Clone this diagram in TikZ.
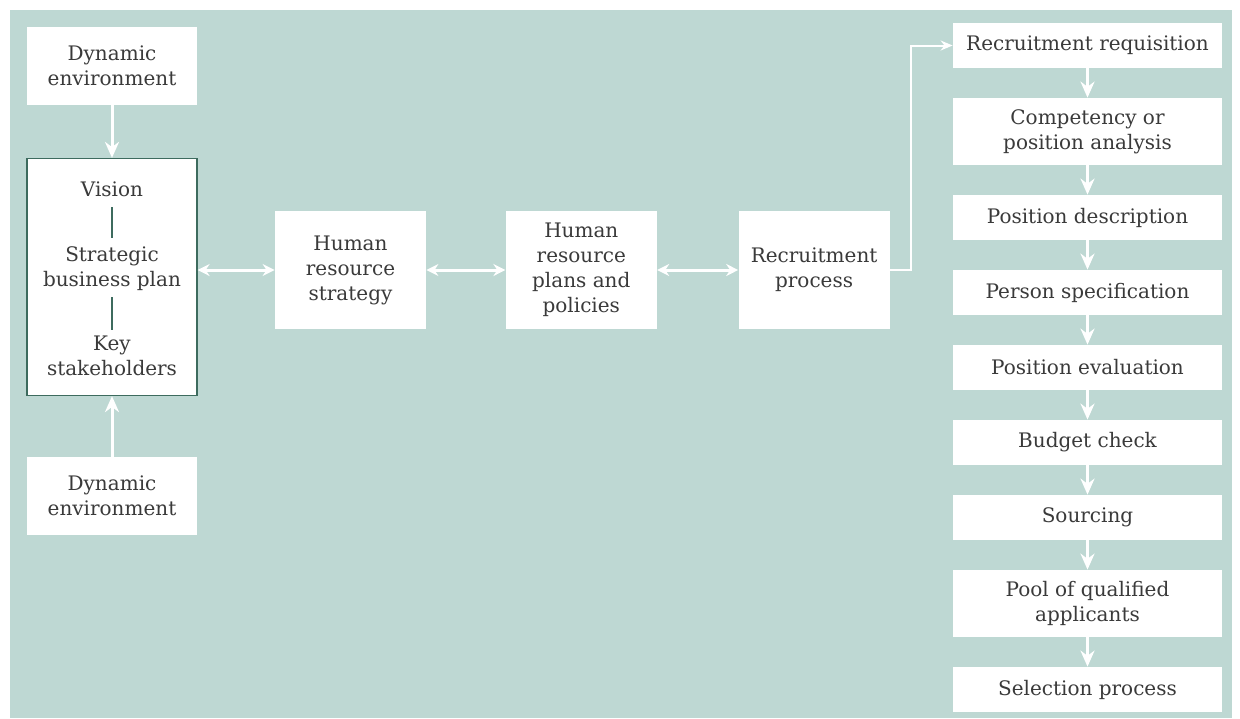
\documentclass[tikz,border=0pt]{standalone}
\usepackage{fontspec}
\setmainfont{DejaVu Serif}
\usepackage{xcolor}
\usetikzlibrary{arrows.meta, positioning}

\definecolor{panel}{HTML}{BED8D3}
\definecolor{rulegreen}{HTML}{3D6B5E}
\definecolor{ink}{HTML}{3A3A3A}

\begin{document}
\begin{tikzpicture}[x=0.5pt,y=-0.5pt,node distance=14.6pt,>={Stealth[length=8pt,width=7pt]},
        every node/.style={font=\fontsize{10}{12.5}\selectfont,text=ink,align=center},
        envbox/.style={fill=white,inner sep=0pt,minimum width=85pt,minimum height=39pt},
        midbox/.style={fill=white,inner sep=0pt,minimum width=75.5pt,minimum height=59pt},
        stepbox/.style={fill=white,inner sep=0pt,minimum width=134.5pt,minimum height=22.5pt},
        tallbox/.style={stepbox,minimum height=33.5pt},
        flow/.style={->,white,line width=1.5pt},
        link/.style={{Stealth[length=6pt,width=6pt]}-{Stealth[length=6pt,width=6pt]},white,line width=1.5pt}]

        \useasboundingbox (0,0) rectangle (1240,718);
        \fill[white] (0,0) rectangle (1240,718);
        \fill[panel] (10,10) rectangle (1232,718);

        % left column
        \node[envbox] (env_top) at (112,66) {Dynamic\\environment};
        \node[draw=rulegreen,line width=0.6pt,fill=white,minimum width=85pt,minimum height=118.5pt] (vision) at (112,277) {};
        \node (vis) at (112,189) {Vision};
        \node (sbp) at (112,269) {Strategic\\business plan};
        \node (ks) at (112,356) {Key\\stakeholders};
        \node[envbox] (env_bot) at (112,496) {Dynamic\\environment};

        \draw[rulegreen,line width=1pt,shorten <=9pt,shorten >=15.5pt] (vis.center) -- (sbp.center);
        \draw[rulegreen,line width=1pt,shorten <=14pt,shorten >=13pt] (sbp.center) -- (ks.center);

        % middle row
        \node[midbox] (hr_strat) at (350.5,270) {Human\\resource\\strategy};
        \node[midbox,right=39.5pt of hr_strat] (hr_plans) {Human\\resource\\plans and\\policies};
        \node[midbox,right=40.5pt of hr_plans] (rec_proc) {Recruitment\\process};

        % right column
        \node[stepbox] (req) at (1087.5,45.5) {Recruitment requisition};
        \node[tallbox,below=of req] (comp) {Competency or\\position analysis};
        \node[stepbox,below=of comp] (pos_desc) {Position description};
        \node[stepbox,below=of pos_desc] (pers_spec) {Person specification};
        \node[stepbox,below=of pers_spec] (pos_eval) {Position evaluation};
        \node[stepbox,below=of pos_eval] (budget) {Budget check};
        \node[stepbox,below=of budget] (sourcing) {Sourcing};
        \node[tallbox,below=of sourcing] (pool) {Pool of qualified\\applicants};
        \node[stepbox,below=of pool] (selection) {Selection process};

        \draw[flow] (env_top) -- (vision);
        \draw[flow] (env_bot) -- (vision);
        \draw[link] (vision.east |- hr_strat) -- (hr_strat);
        \draw[link] (hr_strat) -- (hr_plans);
        \draw[link] (hr_plans) -- (rec_proc);
        \draw[->,white,line width=1pt,>={Stealth[length=6pt,width=5pt]}] (rec_proc.east) -- ++(21,0) |- (req.west);

        \foreach \a/\b in {req/comp,comp/pos_desc,pos_desc/pers_spec,pers_spec/pos_eval,
                pos_eval/budget,budget/sourcing,sourcing/pool,pool/selection}
            \draw[flow] (\a) -- (\b);
    \end{tikzpicture}
\end{document}
